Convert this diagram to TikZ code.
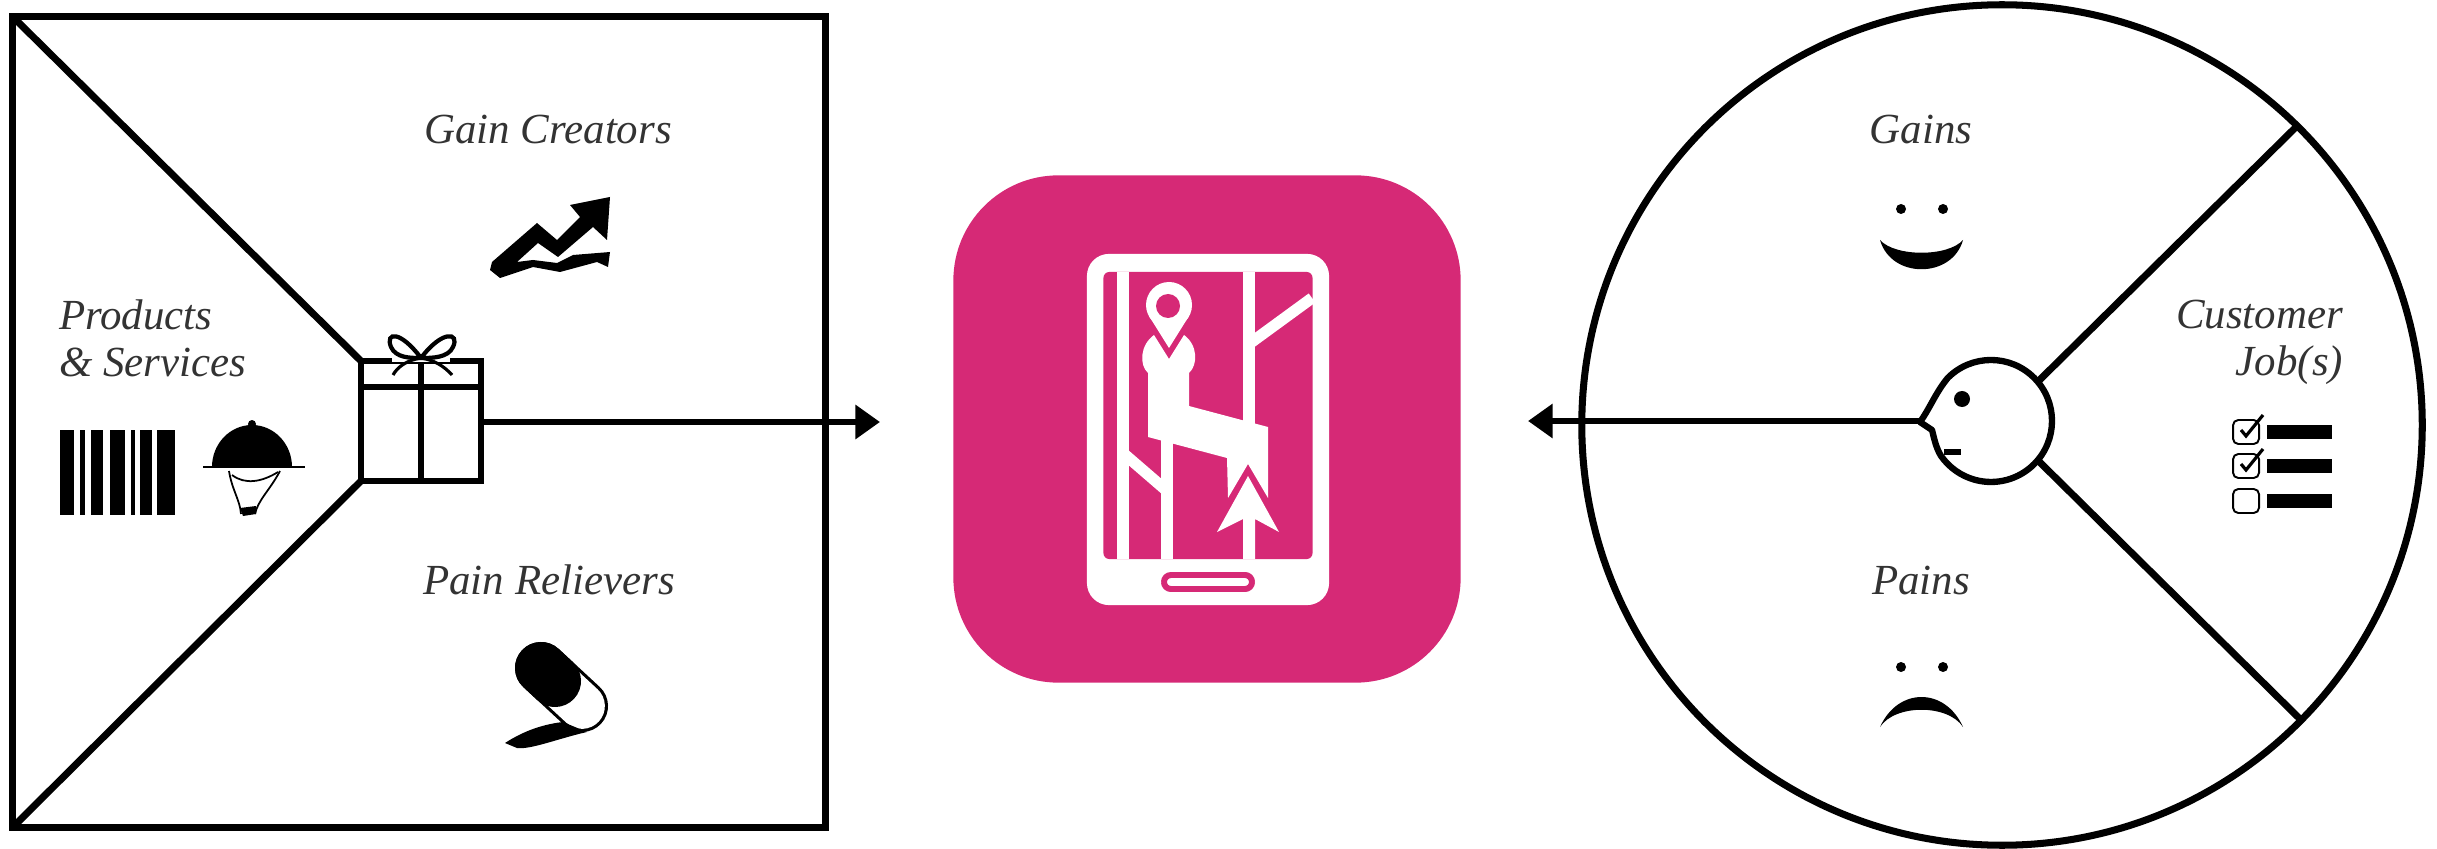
\documentclass[tikz,border=0pt]{standalone}
\usepackage{fontspec}
\setmainfont{Liberation Serif}
\usepackage{xcolor}
\usetikzlibrary{arrows.meta,positioning}
\definecolor{tilepink}{HTML}{D62976}
\definecolor{inkgrey}{HTML}{333333}

\begin{document}
\begin{tikzpicture}[
    x=0.01cm, y=-0.01cm,
    every node/.style={inner sep=0pt, outer sep=0pt},
    frame/.style={draw=black, line width=2pt},
    thin_frame/.style={draw=black, line width=1.7pt},
    solid_ink/.style={fill=black, draw=none},
    flow/.style={draw=black, line width=1.8pt, -{Triangle[length=7pt,width=9.4pt]}},
    label/.style={font=\fontsize{12.2pt}{13.4pt}\selectfont\itshape, text=inkgrey, align=left},
    street/.style={draw=white, line width=3.2pt},
    eye/.style={circle, fill=black, minimum size=0.1cm}
]
\useasboundingbox (0,0) rectangle (2437,849);

% value map
\node[frame, minimum width=8.13cm, minimum height=8.11cm] (value_map) at (419,422) {};
\node[thin_frame, minimum width=1.2cm, minimum height=1.2cm] (gift) at (421,421) {};
\draw[frame] (value_map.north west) -- (gift.north west);
\draw[frame] (value_map.south west) -- (gift.south west);
\draw[thin_frame] (gift.north) -- (gift.south);
\draw[thin_frame] (gift.west |- 0,387) -- (gift.east |- 0,387);
\fill[white] (392,352) rectangle (450,362);
\draw[thin_frame, line width=1.2pt] (421,358) .. controls (400,330) and (385,332) .. (391,347) .. controls (396,358) and (410,358) .. (421,358);
\draw[thin_frame, line width=1.2pt] (421,358) .. controls (442,330) and (460,332) .. (453,347) .. controls (448,358) and (432,358) .. (421,358);
\draw[thin_frame, line width=0.9pt] (421,358) .. controls (408,360) and (398,366) .. (393,375);
\draw[thin_frame, line width=0.9pt] (421,358) .. controls (434,360) and (444,366) .. (452,375);

\node[label] (gain_creators) at (548,130) {Gain Creators};
\node[label] (pain_relievers) at (549,580) {Pain Relievers};
\node[label, anchor=west] (products) at (59,338) {Products\\\&\ Services};

% barcode
\foreach \xa/\xb in {60/74, 80/85, 91/103, 110/125, 131/135, 140/152, 157/175}
    \fill[black] (\xa,430) rectangle (\xb,515);

% cloche
\fill[solid_ink] (212,467) arc (180:360:40 and 42) -- cycle;
\fill[solid_ink] (252,424) circle (4);
\draw[black, line width=0.8pt] (203,467) -- (305,467);
\draw[black, line width=0.5pt] (229,471) .. controls (232,490) and (240,500) .. (241,514);
\draw[black, line width=0.5pt] (280,471) .. controls (270,490) and (258,500) .. (255,514);
\draw[black, line width=0.5pt] (232,475) .. controls (245,485) and (262,482) .. (278,472);
\fill[solid_ink] (240,508) -- (256,506) -- (256,514) -- (243,516) -- cycle;

% gain icon
\fill[solid_ink] (492,262) -- (537,223) -- (557,240) -- (580,217) -- (570,205) -- (610,197) -- (607,240) -- (593,227) -- (558,257) -- (538,243) -- (517,262) -- (533,260) -- (557,263) -- (573,255) -- (610,252) -- (608,267) -- (597,262) -- (560,272) -- (533,267) -- (500,278) -- (490,270) -- cycle;

% pain icon
\draw[black, line width=14.8pt, line cap=round] (541,668) -- (582,706);
\draw[white, line width=13pt, line cap=round] (555,681) -- (582,706);
\draw[black, line width=14.8pt, line cap=round] (541,668) -- (555,681);
\fill[solid_ink] (505,743) .. controls (525,730) and (545,724) .. (563,722) -- (587,732) .. controls (560,738) and (530,750) .. (517,748) -- cycle;

% phone tile
\node[fill=tilepink, rounded corners=1.05cm, minimum width=5.07cm, minimum height=5.07cm] (app_tile) at (1207,429) {};
\node[fill=white, rounded corners=0.22cm, minimum width=2.42cm, minimum height=3.51cm] (phone) at (1208,429.5) {};
\node[fill=tilepink, rounded corners=0.06cm, minimum width=2.09cm, minimum height=2.87cm] (screen) at (1208,415.5) {};
\node[draw=tilepink, line width=1.7pt, fill=white, rounded corners=0.07cm, minimum width=0.88cm, minimum height=0.14cm] (home_button) at (1208,582) {};

\draw[street] (1123,272) -- (1123,559);
\draw[street] (1249,272) -- (1249,430);
\draw[street] (1167,559) -- (1167,430);
\draw[street] (1312,298) -- (1249,344);
\draw[street] (1123,453) -- (1167,491);
\fill[white] (1154,335) .. controls (1140,345) and (1139,365) .. (1148,373) -- (1148,437) -- (1227,458) -- (1228,498) -- (1248,464) -- (1268,498) -- (1268,427) -- (1189,406) -- (1189,373) .. controls (1198,365) and (1198,345) .. (1184,335) -- (1169,359) -- cycle;
\fill[white] (1169,305) circle (23);
\fill[white] (1169,348) -- (1149,316) -- (1189,316) -- cycle;
\fill[tilepink] (1168,306) circle (12);
\fill[white] (1248,476) -- (1279,532) -- (1255,519) -- (1255,559) -- (1243,559) -- (1243,519) -- (1217,532) -- cycle;

% customer profile
\node[frame, circle, minimum size=8.4cm] (profile) at (2002,425) {};
\node[circle, minimum size=1.22cm] (head) at (1991,421) {};
\coordinate (rim_top) at (2296,127);
\coordinate (rim_bot) at (2302,721);
\draw[frame] (head.40) -- (rim_top);
\draw[frame] (head.-40) -- (rim_bot);

\node[label] (gains) at (1921,130) {Gains};
\node[label] (pains) at (1921,581) {Pains};
\node[label, anchor=east, align=right] (customer_jobs) at (2343,342) {Customer\\Job(s)};

% face
\node[eye, minimum size=0.16cm] (head_eye) at (1962,399) {};
\draw[frame, line width=1.8pt, line join=round] (head.135) arc (-135:145:61) .. controls (1936,448) and (1934,438) .. (1932,430) -- (1920,422) .. controls (1930,408) and (1936,392) .. (head.135);
\draw[frame, line width=1.6pt] (1944,452) -- (1961,452);

% gains and pains faces
\node[eye] (gain_eye_l) at (1901,209) {};
\node[eye] (gain_eye_r) at (1943,209) {};
\fill[solid_ink] (1880,240) .. controls (1895,257) and (1948,257) .. (1963,240) .. controls (1952,279) and (1891,279) .. (1880,240) -- cycle;
\node[eye] (pain_eye_l) at (1901,667) {};
\node[eye] (pain_eye_r) at (1943,667) {};
\fill[solid_ink] (1880,727) .. controls (1895,704) and (1948,704) .. (1963,727) .. controls (1945,687) and (1898,687) .. (1880,727) -- cycle;

% job list
\foreach \rowy/\ticked in {432/1, 466/1, 501/0}{
  \draw[black, line width=0.55pt, rounded corners=1.5pt] (2233,\rowy-12) rectangle (2259,\rowy+12);
  \fill[black] (2267,\rowy-7) rectangle (2332,\rowy+7);
  \ifnum\ticked=1
    \draw[black, line width=0.9pt] (2241,\rowy-2) -- (2246,\rowy+4) -- (2263,\rowy-17);
  \fi
}

% arrows
\coordinate (offer_tip) at (880,422);
\coordinate (profile_tip) at (1528,421);
\coordinate (profile_nose) at (1920,421);
\draw[flow] (gift.east |- offer_tip) -- (offer_tip);
\draw[flow] (profile_nose) -- (profile_tip);
\end{tikzpicture}
\end{document}
